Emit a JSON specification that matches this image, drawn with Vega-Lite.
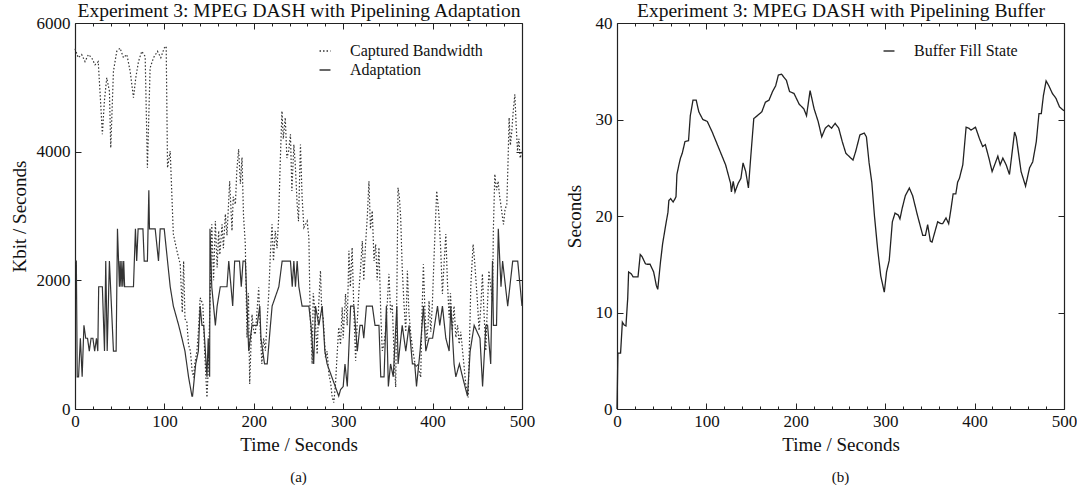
{
"$schema":"https://vega.github.io/schema/vega-lite/v6.json",
"background":"white",
"padding":{"left":10,"top":0,"right":0,"bottom":0},
"spacing":30,
"config":{"view":{"stroke":null},"font":"Liberation Serif",
"axis":{"labelFont":"Liberation Serif","titleFont":"Liberation Serif","labelFontSize":17,"titleFontSize":19,"titleFontWeight":"normal","labelColor":"#111","titleColor":"#111","domainColor":"#222","tickColor":"#222","domainWidth":1.2,"tickWidth":1,"grid":false,"format":"d","labelFlush":false,"labelOverlap":false},
"legend":{"labelFont":"Liberation Serif"},
"title":{"font":"Liberation Serif"}},
"resolve":{"scale":{"x":"independent","y":"independent","strokeDash":"independent"},"legend":{"strokeDash":"independent"}},
"datasets":{
"bw":[
{"t":0,"v":5600,"s":"Captured Bandwidth"},{"t":1,"v":5560,"s":"Captured Bandwidth"},{"t":3.7,"v":5460,"s":"Captured Bandwidth"},{"t":7.5,"v":5510,"s":"Captured Bandwidth"},{"t":11.2,"v":5400,"s":"Captured Bandwidth"},{"t":15,"v":5510,"s":"Captured Bandwidth"},{"t":18.7,"v":5460,"s":"Captured Bandwidth"},{"t":22.4,"v":5350,"s":"Captured Bandwidth"},{"t":26,"v":5400,"s":"Captured Bandwidth"},{"t":28.8,"v":4730,"s":"Captured Bandwidth"},{"t":30.6,"v":4270,"s":"Captured Bandwidth"},{"t":32.9,"v":4790,"s":"Captured Bandwidth"},{"t":35.5,"v":5150,"s":"Captured Bandwidth"},{"t":38.5,"v":4940,"s":"Captured Bandwidth"},{"t":40,"v":4060,"s":"Captured Bandwidth"},{"t":43,"v":5250,"s":"Captured Bandwidth"},{"t":46.7,"v":5560,"s":"Captured Bandwidth"},{"t":50.4,"v":5610,"s":"Captured Bandwidth"},{"t":54.2,"v":5460,"s":"Captured Bandwidth"},{"t":58,"v":5510,"s":"Captured Bandwidth"},{"t":61.7,"v":5250,"s":"Captured Bandwidth"},{"t":65.4,"v":4840,"s":"Captured Bandwidth"},{"t":68,"v":5150,"s":"Captured Bandwidth"},{"t":71,"v":5400,"s":"Captured Bandwidth"},{"t":74.7,"v":5560,"s":"Captured Bandwidth"},{"t":78.5,"v":5480,"s":"Captured Bandwidth"},{"t":81,"v":3750,"s":"Captured Bandwidth"},{"t":84,"v":5300,"s":"Captured Bandwidth"},{"t":87.8,"v":5460,"s":"Captured Bandwidth"},{"t":92.3,"v":5560,"s":"Captured Bandwidth"},{"t":96,"v":5460,"s":"Captured Bandwidth"},{"t":99.8,"v":5610,"s":"Captured Bandwidth"},{"t":102,"v":5640,"s":"Captured Bandwidth"},{"t":103.5,"v":3750,"s":"Captured Bandwidth"},{"t":106.5,"v":4010,"s":"Captured Bandwidth"},{"t":110,"v":2720,"s":"Captured Bandwidth"},{"t":114,"v":2460,"s":"Captured Bandwidth"},{"t":117.7,"v":2250,"s":"Captured Bandwidth"},{"t":120,"v":1500,"s":"Captured Bandwidth"},{"t":121.5,"v":2300,"s":"Captured Bandwidth"},{"t":123,"v":1400,"s":"Captured Bandwidth"},{"t":125,"v":1370,"s":"Captured Bandwidth"},{"t":127,"v":1000,"s":"Captured Bandwidth"},{"t":129,"v":905,"s":"Captured Bandwidth"},{"t":131,"v":600,"s":"Captured Bandwidth"},{"t":132.6,"v":490,"s":"Captured Bandwidth"},{"t":134,"v":700,"s":"Captured Bandwidth"},{"t":136.4,"v":905,"s":"Captured Bandwidth"},{"t":138,"v":1200,"s":"Captured Bandwidth"},{"t":140,"v":1730,"s":"Captured Bandwidth"},{"t":143,"v":1630,"s":"Captured Bandwidth"},{"t":145,"v":900,"s":"Captured Bandwidth"},{"t":147.6,"v":180,"s":"Captured Bandwidth"},{"t":149,"v":600,"s":"Captured Bandwidth"},{"t":150.6,"v":1420,"s":"Captured Bandwidth"},{"t":153,"v":2870,"s":"Captured Bandwidth"},{"t":155,"v":2000,"s":"Captured Bandwidth"},{"t":157,"v":2920,"s":"Captured Bandwidth"},{"t":159,"v":2200,"s":"Captured Bandwidth"},{"t":160.7,"v":2770,"s":"Captured Bandwidth"},{"t":162,"v":2400,"s":"Captured Bandwidth"},{"t":164.5,"v":2870,"s":"Captured Bandwidth"},{"t":166,"v":2500,"s":"Captured Bandwidth"},{"t":168.2,"v":3030,"s":"Captured Bandwidth"},{"t":170,"v":2700,"s":"Captured Bandwidth"},{"t":173,"v":3540,"s":"Captured Bandwidth"},{"t":175.6,"v":2770,"s":"Captured Bandwidth"},{"t":177,"v":3300,"s":"Captured Bandwidth"},{"t":179.4,"v":3180,"s":"Captured Bandwidth"},{"t":181,"v":3700,"s":"Captured Bandwidth"},{"t":183,"v":4040,"s":"Captured Bandwidth"},{"t":185,"v":3500,"s":"Captured Bandwidth"},{"t":186.8,"v":3910,"s":"Captured Bandwidth"},{"t":188.5,"v":3000,"s":"Captured Bandwidth"},{"t":190.5,"v":2560,"s":"Captured Bandwidth"},{"t":192.4,"v":1110,"s":"Captured Bandwidth"},{"t":194,"v":1800,"s":"Captured Bandwidth"},{"t":195.4,"v":390,"s":"Captured Bandwidth"},{"t":198,"v":1470,"s":"Captured Bandwidth"},{"t":200,"v":1200,"s":"Captured Bandwidth"},{"t":201.7,"v":1160,"s":"Captured Bandwidth"},{"t":203.5,"v":1500,"s":"Captured Bandwidth"},{"t":205.5,"v":1890,"s":"Captured Bandwidth"},{"t":207,"v":1300,"s":"Captured Bandwidth"},{"t":209,"v":700,"s":"Captured Bandwidth"},{"t":211,"v":1100,"s":"Captured Bandwidth"},{"t":213,"v":905,"s":"Captured Bandwidth"},{"t":215,"v":1400,"s":"Captured Bandwidth"},{"t":216.7,"v":1785,"s":"Captured Bandwidth"},{"t":218.5,"v":2400,"s":"Captured Bandwidth"},{"t":220.4,"v":2870,"s":"Captured Bandwidth"},{"t":222,"v":2300,"s":"Captured Bandwidth"},{"t":224,"v":2770,"s":"Captured Bandwidth"},{"t":226,"v":2500,"s":"Captured Bandwidth"},{"t":227.8,"v":2970,"s":"Captured Bandwidth"},{"t":229.5,"v":3800,"s":"Captured Bandwidth"},{"t":231.5,"v":4630,"s":"Captured Bandwidth"},{"t":233,"v":4200,"s":"Captured Bandwidth"},{"t":235.2,"v":4530,"s":"Captured Bandwidth"},{"t":237,"v":3900,"s":"Captured Bandwidth"},{"t":239,"v":4010,"s":"Captured Bandwidth"},{"t":241,"v":4270,"s":"Captured Bandwidth"},{"t":242.6,"v":3390,"s":"Captured Bandwidth"},{"t":244.8,"v":4110,"s":"Captured Bandwidth"},{"t":246.4,"v":3800,"s":"Captured Bandwidth"},{"t":248.5,"v":3180,"s":"Captured Bandwidth"},{"t":250,"v":2920,"s":"Captured Bandwidth"},{"t":252.2,"v":4110,"s":"Captured Bandwidth"},{"t":254,"v":3300,"s":"Captured Bandwidth"},{"t":256,"v":2820,"s":"Captured Bandwidth"},{"t":259.7,"v":2920,"s":"Captured Bandwidth"},{"t":261.6,"v":2660,"s":"Captured Bandwidth"},{"t":263,"v":1500,"s":"Captured Bandwidth"},{"t":265.3,"v":700,"s":"Captured Bandwidth"},{"t":266.5,"v":1800,"s":"Captured Bandwidth"},{"t":268,"v":1580,"s":"Captured Bandwidth"},{"t":270.9,"v":850,"s":"Captured Bandwidth"},{"t":272.5,"v":1600,"s":"Captured Bandwidth"},{"t":274.6,"v":2150,"s":"Captured Bandwidth"},{"t":276,"v":1500,"s":"Captured Bandwidth"},{"t":277.6,"v":1420,"s":"Captured Bandwidth"},{"t":280.2,"v":800,"s":"Captured Bandwidth"},{"t":282,"v":900,"s":"Captured Bandwidth"},{"t":284,"v":540,"s":"Captured Bandwidth"},{"t":286,"v":400,"s":"Captured Bandwidth"},{"t":287.7,"v":180,"s":"Captured Bandwidth"},{"t":289.5,"v":100,"s":"Captured Bandwidth"},{"t":291.4,"v":390,"s":"Captured Bandwidth"},{"t":293,"v":800,"s":"Captured Bandwidth"},{"t":295,"v":1270,"s":"Captured Bandwidth"},{"t":297,"v":1000,"s":"Captured Bandwidth"},{"t":298.9,"v":1580,"s":"Captured Bandwidth"},{"t":300,"v":1100,"s":"Captured Bandwidth"},{"t":302.6,"v":1790,"s":"Captured Bandwidth"},{"t":304.5,"v":1300,"s":"Captured Bandwidth"},{"t":306.4,"v":2460,"s":"Captured Bandwidth"},{"t":308,"v":1900,"s":"Captured Bandwidth"},{"t":310,"v":2510,"s":"Captured Bandwidth"},{"t":312,"v":1500,"s":"Captured Bandwidth"},{"t":313.9,"v":750,"s":"Captured Bandwidth"},{"t":315.5,"v":1300,"s":"Captured Bandwidth"},{"t":317.6,"v":1840,"s":"Captured Bandwidth"},{"t":319.5,"v":2200,"s":"Captured Bandwidth"},{"t":321.4,"v":2610,"s":"Captured Bandwidth"},{"t":323,"v":2000,"s":"Captured Bandwidth"},{"t":325,"v":2560,"s":"Captured Bandwidth"},{"t":327,"v":3000,"s":"Captured Bandwidth"},{"t":328.8,"v":3540,"s":"Captured Bandwidth"},{"t":330.5,"v":2800,"s":"Captured Bandwidth"},{"t":332.5,"v":3080,"s":"Captured Bandwidth"},{"t":334.5,"v":2300,"s":"Captured Bandwidth"},{"t":336.3,"v":2560,"s":"Captured Bandwidth"},{"t":338,"v":2000,"s":"Captured Bandwidth"},{"t":340,"v":2510,"s":"Captured Bandwidth"},{"t":342,"v":1500,"s":"Captured Bandwidth"},{"t":343.7,"v":905,"s":"Captured Bandwidth"},{"t":345.5,"v":1000,"s":"Captured Bandwidth"},{"t":347.5,"v":1220,"s":"Captured Bandwidth"},{"t":349.5,"v":1700,"s":"Captured Bandwidth"},{"t":351.2,"v":2100,"s":"Captured Bandwidth"},{"t":353,"v":1500,"s":"Captured Bandwidth"},{"t":354.9,"v":1630,"s":"Captured Bandwidth"},{"t":357,"v":800,"s":"Captured Bandwidth"},{"t":358.7,"v":340,"s":"Captured Bandwidth"},{"t":360,"v":1800,"s":"Captured Bandwidth"},{"t":361.3,"v":3440,"s":"Captured Bandwidth"},{"t":362.8,"v":3300,"s":"Captured Bandwidth"},{"t":364.3,"v":2970,"s":"Captured Bandwidth"},{"t":366,"v":2200,"s":"Captured Bandwidth"},{"t":368,"v":1630,"s":"Captured Bandwidth"},{"t":370,"v":1200,"s":"Captured Bandwidth"},{"t":371.8,"v":2150,"s":"Captured Bandwidth"},{"t":373.5,"v":1500,"s":"Captured Bandwidth"},{"t":375.6,"v":1160,"s":"Captured Bandwidth"},{"t":378,"v":900,"s":"Captured Bandwidth"},{"t":381,"v":650,"s":"Captured Bandwidth"},{"t":383,"v":700,"s":"Captured Bandwidth"},{"t":386.7,"v":490,"s":"Captured Bandwidth"},{"t":388,"v":1400,"s":"Captured Bandwidth"},{"t":389.7,"v":2250,"s":"Captured Bandwidth"},{"t":391.5,"v":1500,"s":"Captured Bandwidth"},{"t":393.4,"v":1060,"s":"Captured Bandwidth"},{"t":395,"v":1300,"s":"Captured Bandwidth"},{"t":396,"v":1680,"s":"Captured Bandwidth"},{"t":398,"v":1200,"s":"Captured Bandwidth"},{"t":399.7,"v":1630,"s":"Captured Bandwidth"},{"t":402,"v":2500,"s":"Captured Bandwidth"},{"t":404.6,"v":3390,"s":"Captured Bandwidth"},{"t":407,"v":3030,"s":"Captured Bandwidth"},{"t":409,"v":2500,"s":"Captured Bandwidth"},{"t":411,"v":1790,"s":"Captured Bandwidth"},{"t":413,"v":2300,"s":"Captured Bandwidth"},{"t":414.8,"v":2720,"s":"Captured Bandwidth"},{"t":416.5,"v":2000,"s":"Captured Bandwidth"},{"t":418.5,"v":1420,"s":"Captured Bandwidth"},{"t":420,"v":1800,"s":"Captured Bandwidth"},{"t":422,"v":1220,"s":"Captured Bandwidth"},{"t":424,"v":1600,"s":"Captured Bandwidth"},{"t":426,"v":1110,"s":"Captured Bandwidth"},{"t":428,"v":1300,"s":"Captured Bandwidth"},{"t":429.7,"v":1010,"s":"Captured Bandwidth"},{"t":431.5,"v":1200,"s":"Captured Bandwidth"},{"t":433.5,"v":905,"s":"Captured Bandwidth"},{"t":435,"v":700,"s":"Captured Bandwidth"},{"t":437,"v":390,"s":"Captured Bandwidth"},{"t":439.8,"v":180,"s":"Captured Bandwidth"},{"t":441,"v":900,"s":"Captured Bandwidth"},{"t":442.8,"v":1940,"s":"Captured Bandwidth"},{"t":445.3,"v":2560,"s":"Captured Bandwidth"},{"t":447,"v":2300,"s":"Captured Bandwidth"},{"t":448.3,"v":2040,"s":"Captured Bandwidth"},{"t":450,"v":1700,"s":"Captured Bandwidth"},{"t":452,"v":1220,"s":"Captured Bandwidth"},{"t":454,"v":1600,"s":"Captured Bandwidth"},{"t":455.7,"v":2100,"s":"Captured Bandwidth"},{"t":457.5,"v":1500,"s":"Captured Bandwidth"},{"t":459.5,"v":905,"s":"Captured Bandwidth"},{"t":461,"v":1500,"s":"Captured Bandwidth"},{"t":463,"v":2150,"s":"Captured Bandwidth"},{"t":465,"v":1900,"s":"Captured Bandwidth"},{"t":467,"v":1680,"s":"Captured Bandwidth"},{"t":468,"v":2800,"s":"Captured Bandwidth"},{"t":469.6,"v":3650,"s":"Captured Bandwidth"},{"t":471.5,"v":3400,"s":"Captured Bandwidth"},{"t":473.3,"v":3540,"s":"Captured Bandwidth"},{"t":475,"v":3300,"s":"Captured Bandwidth"},{"t":476.3,"v":3180,"s":"Captured Bandwidth"},{"t":478,"v":3000,"s":"Captured Bandwidth"},{"t":479.3,"v":2870,"s":"Captured Bandwidth"},{"t":481,"v":3100,"s":"Captured Bandwidth"},{"t":483,"v":3180,"s":"Captured Bandwidth"},{"t":484.3,"v":3800,"s":"Captured Bandwidth"},{"t":485.6,"v":4530,"s":"Captured Bandwidth"},{"t":487,"v":4100,"s":"Captured Bandwidth"},{"t":488.6,"v":4320,"s":"Captured Bandwidth"},{"t":490,"v":4600,"s":"Captured Bandwidth"},{"t":492,"v":4890,"s":"Captured Bandwidth"},{"t":493.5,"v":4400,"s":"Captured Bandwidth"},{"t":495,"v":4010,"s":"Captured Bandwidth"},{"t":496.5,"v":4200,"s":"Captured Bandwidth"},{"t":498,"v":3900,"s":"Captured Bandwidth"},{"t":500,"v":4010,"s":"Captured Bandwidth"},
{"t":0,"v":2300,"s":"Adaptation"},{"t":1.5,"v":2300,"s":"Adaptation"},{"t":2.5,"v":500,"s":"Adaptation"},{"t":4,"v":500,"s":"Adaptation"},{"t":6,"v":1100,"s":"Adaptation"},{"t":8,"v":500,"s":"Adaptation"},{"t":10,"v":1300,"s":"Adaptation"},{"t":12,"v":1100,"s":"Adaptation"},{"t":14,"v":1100,"s":"Adaptation"},{"t":16,"v":900,"s":"Adaptation"},{"t":18,"v":1100,"s":"Adaptation"},{"t":20,"v":1100,"s":"Adaptation"},{"t":22,"v":900,"s":"Adaptation"},{"t":24,"v":1100,"s":"Adaptation"},{"t":25.5,"v":900,"s":"Adaptation"},{"t":26.5,"v":1900,"s":"Adaptation"},{"t":30.6,"v":1900,"s":"Adaptation"},{"t":33,"v":900,"s":"Adaptation"},{"t":34.4,"v":2300,"s":"Adaptation"},{"t":36,"v":900,"s":"Adaptation"},{"t":38.5,"v":2300,"s":"Adaptation"},{"t":43,"v":900,"s":"Adaptation"},{"t":46,"v":900,"s":"Adaptation"},{"t":47.5,"v":2800,"s":"Adaptation"},{"t":49.7,"v":1900,"s":"Adaptation"},{"t":50.5,"v":2300,"s":"Adaptation"},{"t":51.5,"v":1900,"s":"Adaptation"},{"t":52.5,"v":2300,"s":"Adaptation"},{"t":53.5,"v":1900,"s":"Adaptation"},{"t":54.5,"v":2300,"s":"Adaptation"},{"t":55.5,"v":1900,"s":"Adaptation"},{"t":65.4,"v":1900,"s":"Adaptation"},{"t":67.6,"v":2800,"s":"Adaptation"},{"t":69,"v":2300,"s":"Adaptation"},{"t":70.6,"v":2800,"s":"Adaptation"},{"t":76,"v":2800,"s":"Adaptation"},{"t":77.4,"v":2300,"s":"Adaptation"},{"t":81,"v":2300,"s":"Adaptation"},{"t":82.6,"v":3400,"s":"Adaptation"},{"t":83.3,"v":2800,"s":"Adaptation"},{"t":89.7,"v":2800,"s":"Adaptation"},{"t":93.4,"v":2300,"s":"Adaptation"},{"t":95.3,"v":2800,"s":"Adaptation"},{"t":99.8,"v":2800,"s":"Adaptation"},{"t":103.5,"v":2300,"s":"Adaptation"},{"t":106.5,"v":1900,"s":"Adaptation"},{"t":110,"v":1600,"s":"Adaptation"},{"t":116,"v":1300,"s":"Adaptation"},{"t":119.6,"v":1100,"s":"Adaptation"},{"t":123,"v":900,"s":"Adaptation"},{"t":127,"v":500,"s":"Adaptation"},{"t":130.8,"v":200,"s":"Adaptation"},{"t":131.5,"v":200,"s":"Adaptation"},{"t":135,"v":700,"s":"Adaptation"},{"t":138,"v":900,"s":"Adaptation"},{"t":140,"v":1600,"s":"Adaptation"},{"t":142,"v":1300,"s":"Adaptation"},{"t":144,"v":1300,"s":"Adaptation"},{"t":147.6,"v":500,"s":"Adaptation"},{"t":149,"v":1100,"s":"Adaptation"},{"t":150.6,"v":500,"s":"Adaptation"},{"t":151,"v":2800,"s":"Adaptation"},{"t":153,"v":1900,"s":"Adaptation"},{"t":157,"v":1300,"s":"Adaptation"},{"t":159,"v":1600,"s":"Adaptation"},{"t":162.5,"v":1900,"s":"Adaptation"},{"t":170,"v":1900,"s":"Adaptation"},{"t":172,"v":2300,"s":"Adaptation"},{"t":176.4,"v":1600,"s":"Adaptation"},{"t":178.6,"v":2300,"s":"Adaptation"},{"t":184,"v":2300,"s":"Adaptation"},{"t":186,"v":1900,"s":"Adaptation"},{"t":188,"v":2300,"s":"Adaptation"},{"t":190.6,"v":2300,"s":"Adaptation"},{"t":194.3,"v":900,"s":"Adaptation"},{"t":198,"v":1300,"s":"Adaptation"},{"t":203.7,"v":1300,"s":"Adaptation"},{"t":206.7,"v":1600,"s":"Adaptation"},{"t":208,"v":1100,"s":"Adaptation"},{"t":212,"v":700,"s":"Adaptation"},{"t":215,"v":700,"s":"Adaptation"},{"t":218.6,"v":1300,"s":"Adaptation"},{"t":220.5,"v":1600,"s":"Adaptation"},{"t":228,"v":1900,"s":"Adaptation"},{"t":231.7,"v":2300,"s":"Adaptation"},{"t":241,"v":2300,"s":"Adaptation"},{"t":243,"v":1900,"s":"Adaptation"},{"t":244.8,"v":2300,"s":"Adaptation"},{"t":246.6,"v":1900,"s":"Adaptation"},{"t":248.5,"v":2300,"s":"Adaptation"},{"t":250.4,"v":1900,"s":"Adaptation"},{"t":254,"v":1600,"s":"Adaptation"},{"t":261.6,"v":1600,"s":"Adaptation"},{"t":264,"v":1300,"s":"Adaptation"},{"t":267,"v":700,"s":"Adaptation"},{"t":269,"v":1600,"s":"Adaptation"},{"t":272.8,"v":1300,"s":"Adaptation"},{"t":276.5,"v":1600,"s":"Adaptation"},{"t":279.5,"v":900,"s":"Adaptation"},{"t":282,"v":700,"s":"Adaptation"},{"t":295,"v":200,"s":"Adaptation"},{"t":297,"v":300,"s":"Adaptation"},{"t":300,"v":350,"s":"Adaptation"},{"t":302,"v":700,"s":"Adaptation"},{"t":304.6,"v":350,"s":"Adaptation"},{"t":308.3,"v":1600,"s":"Adaptation"},{"t":312,"v":1600,"s":"Adaptation"},{"t":315.8,"v":900,"s":"Adaptation"},{"t":318.8,"v":1300,"s":"Adaptation"},{"t":321.4,"v":1300,"s":"Adaptation"},{"t":323,"v":1100,"s":"Adaptation"},{"t":326,"v":1600,"s":"Adaptation"},{"t":332.6,"v":1600,"s":"Adaptation"},{"t":335.6,"v":1300,"s":"Adaptation"},{"t":340,"v":1300,"s":"Adaptation"},{"t":342,"v":500,"s":"Adaptation"},{"t":345.7,"v":500,"s":"Adaptation"},{"t":348.3,"v":1600,"s":"Adaptation"},{"t":350.5,"v":350,"s":"Adaptation"},{"t":353,"v":700,"s":"Adaptation"},{"t":356,"v":500,"s":"Adaptation"},{"t":360,"v":1600,"s":"Adaptation"},{"t":361.4,"v":700,"s":"Adaptation"},{"t":366,"v":1300,"s":"Adaptation"},{"t":370,"v":900,"s":"Adaptation"},{"t":373.7,"v":1300,"s":"Adaptation"},{"t":377.4,"v":700,"s":"Adaptation"},{"t":380,"v":700,"s":"Adaptation"},{"t":382,"v":350,"s":"Adaptation"},{"t":386,"v":900,"s":"Adaptation"},{"t":389.8,"v":1600,"s":"Adaptation"},{"t":392.4,"v":900,"s":"Adaptation"},{"t":396,"v":1100,"s":"Adaptation"},{"t":400,"v":1100,"s":"Adaptation"},{"t":405.5,"v":1600,"s":"Adaptation"},{"t":408,"v":1300,"s":"Adaptation"},{"t":411,"v":1600,"s":"Adaptation"},{"t":414.8,"v":1100,"s":"Adaptation"},{"t":418.5,"v":900,"s":"Adaptation"},{"t":420.4,"v":1600,"s":"Adaptation"},{"t":424,"v":700,"s":"Adaptation"},{"t":426,"v":500,"s":"Adaptation"},{"t":430,"v":700,"s":"Adaptation"},{"t":433.5,"v":500,"s":"Adaptation"},{"t":439,"v":200,"s":"Adaptation"},{"t":442,"v":900,"s":"Adaptation"},{"t":446.5,"v":1300,"s":"Adaptation"},{"t":453,"v":1100,"s":"Adaptation"},{"t":455.9,"v":350,"s":"Adaptation"},{"t":459.6,"v":1300,"s":"Adaptation"},{"t":461.5,"v":1300,"s":"Adaptation"},{"t":465,"v":700,"s":"Adaptation"},{"t":467,"v":2300,"s":"Adaptation"},{"t":468,"v":1300,"s":"Adaptation"},{"t":471.5,"v":1300,"s":"Adaptation"},{"t":473.5,"v":2800,"s":"Adaptation"},{"t":476.5,"v":1900,"s":"Adaptation"},{"t":478.3,"v":2300,"s":"Adaptation"},{"t":484,"v":1600,"s":"Adaptation"},{"t":489.6,"v":2300,"s":"Adaptation"},{"t":495.2,"v":2300,"s":"Adaptation"},{"t":500,"v":1600,"s":"Adaptation"}
],
"buf":[
{"t":0,"v":0},{"t":1,"v":5.8},{"t":4,"v":5.8},{"t":6,"v":9.0},{"t":8,"v":8.7},{"t":10,"v":8.6},{"t":12,"v":11.5},{"t":13,"v":14.2},{"t":16,"v":14.0},{"t":18,"v":13.7},{"t":23.5,"v":13.7},{"t":26,"v":16.0},{"t":28,"v":15.8},{"t":31.8,"v":15.05},{"t":34,"v":15.0},{"t":37,"v":15.0},{"t":38,"v":14.8},{"t":41,"v":14.2},{"t":44,"v":12.8},{"t":45.6,"v":12.4},{"t":48.6,"v":15.2},{"t":51,"v":17.1},{"t":54,"v":18.8},{"t":57,"v":20.4},{"t":58,"v":21.6},{"t":60,"v":21.8},{"t":62.8,"v":21.45},{"t":65,"v":21.8},{"t":66,"v":22.0},{"t":67,"v":24.3},{"t":69,"v":25.2},{"t":71,"v":26},{"t":73,"v":26.5},{"t":76,"v":27.7},{"t":80,"v":27.8},{"t":82,"v":30.4},{"t":85,"v":32},{"t":88.6,"v":32},{"t":91.5,"v":30.8},{"t":96,"v":30},{"t":101,"v":29.8},{"t":106.5,"v":28.7},{"t":114,"v":27},{"t":121.5,"v":25.3},{"t":127,"v":23.4},{"t":128,"v":22.5},{"t":130,"v":23.6},{"t":132,"v":22.5},{"t":135.6,"v":23.4},{"t":138.6,"v":23.9},{"t":141,"v":25.5},{"t":144,"v":24.6},{"t":147,"v":22.9},{"t":149.5,"v":26},{"t":153,"v":30.1},{"t":157,"v":30.4},{"t":162,"v":30.8},{"t":166,"v":31.8},{"t":170,"v":32},{"t":174,"v":32.9},{"t":177.5,"v":33.5},{"t":180.5,"v":34.6},{"t":184,"v":34.7},{"t":189.5,"v":34.05},{"t":193,"v":32.9},{"t":198,"v":32.7},{"t":203.7,"v":31.6},{"t":209,"v":31.1},{"t":212,"v":30.4},{"t":216,"v":33},{"t":220.5,"v":31.1},{"t":225,"v":29.8},{"t":229,"v":28.2},{"t":233,"v":29.1},{"t":236.5,"v":29.4},{"t":240,"v":29.1},{"t":244,"v":29.6},{"t":248,"v":29.1},{"t":252,"v":27.7},{"t":256,"v":26.5},{"t":261.6,"v":26},{"t":264,"v":25.8},{"t":267,"v":26.7},{"t":271.7,"v":28.4},{"t":276.5,"v":28.6},{"t":279,"v":28.2},{"t":282,"v":25.5},{"t":285,"v":23.5},{"t":288,"v":20},{"t":291.5,"v":16.6},{"t":295,"v":13.8},{"t":299,"v":12.1},{"t":301.5,"v":14.2},{"t":304.5,"v":15.4},{"t":308,"v":19.4},{"t":311,"v":20.3},{"t":314.6,"v":20.1},{"t":316.5,"v":19.7},{"t":319,"v":20.8},{"t":322.5,"v":22.1},{"t":327,"v":22.9},{"t":330.7,"v":22.1},{"t":336,"v":20.1},{"t":342,"v":18},{"t":345,"v":18},{"t":347.5,"v":19.1},{"t":350.5,"v":17.4},{"t":352.4,"v":17.3},{"t":356,"v":18.5},{"t":358.7,"v":19.4},{"t":362.5,"v":19.2},{"t":364.3,"v":19.2},{"t":368,"v":19.8},{"t":371,"v":19.2},{"t":373.7,"v":20.8},{"t":376,"v":22.3},{"t":379,"v":22.3},{"t":381,"v":23.5},{"t":383,"v":23.9},{"t":386.8,"v":25.3},{"t":390.5,"v":29.2},{"t":393.5,"v":29.1},{"t":396,"v":28.9},{"t":401,"v":29.2},{"t":405.5,"v":28},{"t":409,"v":27.2},{"t":412,"v":27.4},{"t":416,"v":26},{"t":419.6,"v":24.6},{"t":426,"v":26.2},{"t":428.6,"v":25.3},{"t":431.6,"v":26},{"t":435.3,"v":25.3},{"t":439,"v":24.3},{"t":444.7,"v":28.7},{"t":446.6,"v":28.2},{"t":452,"v":24.6},{"t":457,"v":23.1},{"t":461.5,"v":25},{"t":465,"v":25.6},{"t":469,"v":27.7},{"t":472,"v":30.6},{"t":474.6,"v":30.6},{"t":477,"v":32.5},{"t":480,"v":34},{"t":483,"v":33.5},{"t":487,"v":32.7},{"t":491,"v":32.2},{"t":495,"v":31.3},{"t":500,"v":30.9}
]
},
"hconcat":[
{
"width":447,"height":386,
"data":{"name":"bw"},
"title":{"text":"(a)","orient":"bottom","anchor":"middle","frame":"group","fontSize":15,"font":"Liberation Serif","fontWeight":"normal","color":"#111","offset":16},
"resolve":{"axis":{"x":"independent","y":"independent"}},
"layer":[
{"mark":{"type":"line","strokeWidth":1.2,"color":"#333"},
"encoding":{
"x":{"field":"t","type":"quantitative","scale":{"domain":[0,500],"nice":false,"zero":false},"axis":{"orient":"bottom","values":[0,100,200,300,400,500],"ticks":false,"labelPadding":4,"labelFlush":false,"labelFont":"Liberation Serif","titleFont":"Liberation Serif","title":"Time / Seconds","titlePadding":6}},
"y":{"field":"v","type":"quantitative","scale":{"domain":[0,6000],"nice":false,"zero":false},"axis":{"orient":"left","values":[0,2000,4000,6000],"ticks":false,"labelPadding":5,"labelFlush":false,"labelFont":"Liberation Serif","titleFont":"Liberation Serif","title":"Kbit / Seconds","titlePadding":7}},
"strokeDash":{"field":"s","type":"nominal","scale":{"domain":["Captured Bandwidth","Adaptation"],"range":[[1.5,2],[1,0]]},"legend":{"orient":"none","legendX":242,"legendY":20,"title":null,"symbolType":"stroke","symbolSize":120,"symbolStrokeWidth":1.3,"symbolStrokeColor":"#333","labelFont":"Liberation Serif","labelFontSize":16,"labelColor":"#111","labelOffset":17,"rowPadding":3}}
}},
{"mark":{"type":"line","opacity":0},
"encoding":{
"x":{"field":"t","type":"quantitative","scale":{"domain":[0,500],"nice":false,"zero":false},"axis":{"orient":"bottom","values":[0,100,200,300,400,500],"tickSize":-6,"labels":false,"domain":false,"title":null}},
"y":{"field":"v","type":"quantitative","scale":{"domain":[0,6000],"nice":false,"zero":false},"axis":{"orient":"left","values":[0,2000,4000,6000],"tickSize":-6,"labels":false,"domain":false,"title":null}}
}},
{"mark":{"type":"line","opacity":0},
"encoding":{
"x":{"field":"t","type":"quantitative","scale":{"domain":[0,500],"nice":false,"zero":false},"axis":{"orient":"bottom","values":[20,40,60,80,120,140,160,180,220,240,260,280,320,340,360,380,420,440,460,480],"tickSize":-3,"labels":false,"domain":false,"title":null}},
"y":{"field":"v","type":"quantitative","scale":{"domain":[0,6000],"nice":false,"zero":false},"axis":{"orient":"right","values":[0,2000,4000,6000],"tickSize":-6,"labels":false,"domain":true,"title":null}}
}},
{"mark":{"type":"line","opacity":0},
"encoding":{
"x":{"field":"t","type":"quantitative","scale":{"domain":[0,500],"nice":false,"zero":false},"axis":{"orient":"top","values":[0,100,200,300,400,500],"tickSize":-6,"labels":false,"domain":true,"titleFont":"Liberation Serif","titleFontSize":19.5,"title":"Experiment 3: MPEG DASH with Pipelining Adaptation","titlePadding":2}}
}},
{"mark":{"type":"line","opacity":0},
"encoding":{
"x":{"field":"t","type":"quantitative","scale":{"domain":[0,500],"nice":false,"zero":false},"axis":{"orient":"top","values":[20,40,60,80,120,140,160,180,220,240,260,280,320,340,360,380,420,440,460,480],"tickSize":-3,"labels":false,"domain":false,"title":null}}
}}
]
},
{
"width":447,"height":386,
"data":{"name":"buf"},
"title":{"text":"(b)","orient":"bottom","anchor":"middle","frame":"group","fontSize":15,"font":"Liberation Serif","fontWeight":"normal","color":"#111","offset":16},
"resolve":{"axis":{"x":"independent","y":"independent"}},
"layer":[
{"mark":{"type":"line","strokeWidth":1.3,"color":"#222"},
"encoding":{
"x":{"field":"t","type":"quantitative","scale":{"domain":[0,500],"nice":false,"zero":false},"axis":{"orient":"bottom","values":[0,100,200,300,400,500],"ticks":false,"labelPadding":4,"labelFlush":false,"labelFont":"Liberation Serif","titleFont":"Liberation Serif","title":"Time / Seconds","titlePadding":6}},
"y":{"field":"v","type":"quantitative","scale":{"domain":[0,40],"nice":false,"zero":false},"axis":{"orient":"left","values":[0,10,20,30,40],"ticks":false,"labelPadding":5,"labelFlush":false,"labelFont":"Liberation Serif","titleFont":"Liberation Serif","title":"Seconds","titlePadding":11}},
"strokeDash":{"datum":"Buffer Fill State","type":"nominal","scale":{"domain":["Buffer Fill State"],"range":[[1,0]]},"legend":{"orient":"none","legendX":264,"legendY":20,"title":null,"symbolType":"stroke","symbolSize":120,"symbolStrokeWidth":1.3,"symbolStrokeColor":"#333","labelFont":"Liberation Serif","labelFontSize":16,"labelColor":"#111","labelOffset":17}}
}},
{"mark":{"type":"line","opacity":0},
"encoding":{
"x":{"field":"t","type":"quantitative","scale":{"domain":[0,500],"nice":false,"zero":false},"axis":{"orient":"bottom","values":[0,100,200,300,400,500],"tickSize":-6,"labels":false,"domain":false,"title":null}},
"y":{"field":"v","type":"quantitative","scale":{"domain":[0,40],"nice":false,"zero":false},"axis":{"orient":"left","values":[0,10,20,30,40],"tickSize":-6,"labels":false,"domain":false,"title":null}}
}},
{"mark":{"type":"line","opacity":0},
"encoding":{
"x":{"field":"t","type":"quantitative","scale":{"domain":[0,500],"nice":false,"zero":false},"axis":{"orient":"bottom","values":[20,40,60,80,120,140,160,180,220,240,260,280,320,340,360,380,420,440,460,480],"tickSize":-3,"labels":false,"domain":false,"title":null}},
"y":{"field":"v","type":"quantitative","scale":{"domain":[0,40],"nice":false,"zero":false},"axis":{"orient":"right","values":[0,10,20,30,40],"tickSize":-6,"labels":false,"domain":true,"title":null}}
}},
{"mark":{"type":"line","opacity":0},
"encoding":{
"x":{"field":"t","type":"quantitative","scale":{"domain":[0,500],"nice":false,"zero":false},"axis":{"orient":"top","values":[0,100,200,300,400,500],"tickSize":-6,"labels":false,"domain":true,"titleFont":"Liberation Serif","titleFontSize":19.5,"title":"Experiment 3: MPEG DASH with Pipelining Buffer","titlePadding":2}}
}},
{"mark":{"type":"line","opacity":0},
"encoding":{
"x":{"field":"t","type":"quantitative","scale":{"domain":[0,500],"nice":false,"zero":false},"axis":{"orient":"top","values":[20,40,60,80,120,140,160,180,220,240,260,280,320,340,360,380,420,440,460,480],"tickSize":-3,"labels":false,"domain":false,"title":null}}
}}
]
}
]
}
